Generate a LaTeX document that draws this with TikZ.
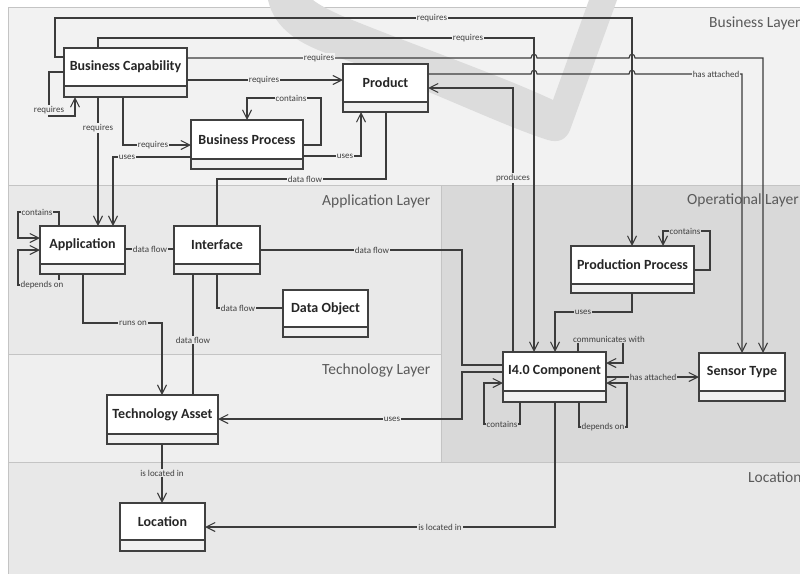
\documentclass[tikz,border=0pt]{standalone}
\usepackage{fontspec}
\setmainfont{Carlito}
\usetikzlibrary{arrows.meta,fit}
\definecolor{bgB}{HTML}{F2F2F2}
\definecolor{bgA}{HTML}{E9E9E9}
\definecolor{bgT}{HTML}{EFEFEF}
\definecolor{bgO}{HTML}{D9D9D9}
\definecolor{bgL}{HTML}{E8E8E8}
\definecolor{wmc}{HTML}{DCDCDC}
\definecolor{lnc}{HTML}{3C3C3C}
\definecolor{boxc}{HTML}{404040}
\definecolor{bordc}{HTML}{C4C4C4}
\definecolor{compc}{HTML}{F0F0F0}
\definecolor{laytxt}{HTML}{5A5A5A}
\definecolor{lbltxt}{HTML}{404040}
\definecolor{ttltxt}{HTML}{262626}
\newcommand\umlcls[7]{%
  \node[clsbox, fit={(#2,#3) (#4,#6)}] (#1) {};
  \filldraw[clsline, fill=compc] (#2,#5) rectangle (#4,#6);
  \node[clstext] (#1t) at ({(#2+#4)/2},{(#3+#5)/2}) {#7};
}
\begin{document}
\begin{tikzpicture}[x=1pt,y=-1pt,
  clsline/.style={draw=boxc, line width=1.3pt},
  clsbox/.style={clsline, fill=white, inner sep=0pt, outer sep=0pt},
  clstext/.style={font=\fontsize{14}{16}\selectfont\bfseries, text=ttltxt, inner sep=0pt},
  conn/.style={draw=lnc, line width=1.1pt},
  arr/.style={conn, -{Straight Barb[length=9pt,width=9pt]}},
  lbl/.style={font=\fontsize{9}{10}\selectfont, text=lbltxt, inner sep=1pt},
  lB/.style={lbl, fill=bgB}, lA/.style={lbl, fill=bgA}, lT/.style={lbl, fill=bgT},
  lO/.style={lbl, fill=bgO}, lL/.style={lbl, fill=bgL},
  layer/.style={draw=bordc, line width=0.8pt},
  laylbl/.style={font=\fontsize{15.5}{18}\selectfont, text=laytxt, anchor=west, inner sep=0pt}
]
\useasboundingbox (0,0) rectangle (800,573);
\clip (0,0) rectangle (800,573);
\fill[white] (0,0) rectangle (800,573);
% layers
\filldraw[layer, fill=bgB] (8,7) rectangle (812,185);
\filldraw[layer, fill=bgA] (8,185) rectangle (441,354);
\filldraw[layer, fill=bgT] (8,354) rectangle (441,462);
\filldraw[layer, fill=bgO] (441,185) rectangle (812,462);
\filldraw[layer, fill=bgL] (8,462) rectangle (812,580);
% watermark
\fill[wmc] (268,0) .. controls (275,30) and (300,45) .. (340,58)
  .. controls (420,85) and (500,125) .. (548,140)
  .. controls (558,143) and (566,140) .. (570,130) -- (617,0) -- (589,0) -- (553,100)
  .. controls (500,75) and (400,40) .. (340,15)
  .. controls (325,8) and (318,4) .. (313,0) -- cycle;
% layer labels
\node[laylbl] (LBus) at (709,23) {Business Layer};
\node[laylbl] (LApp) at (322,201) {Application Layer};
\node[laylbl] (LTec) at (322,370) {Technology Layer};
\node[laylbl] (LOpe) at (687,200) {Operational Layer};
\node[laylbl] (LLoc) at (748,477) {Location};
% class boxes
\umlcls{bc}{64}{48}{187}{86}{97}{Business Capability}
\umlcls{prod}{343}{64}{428}{102}{112}{Product}
\umlcls{bp}{191}{120}{303}{159}{169}{Business Process}
\umlcls{app}{40}{226}{125}{264}{274}{Application}
\umlcls{intf}{174}{226}{260}{264}{274}{Interface}
\umlcls{dobj}{283}{290}{368}{327}{337}{Data Object}
\umlcls{pp}{571}{246}{694}{284}{293}{Production Process}
\umlcls{i40}{503}{352}{606}{391}{402}{I4.0 Component}
\umlcls{sens}{699}{353}{785}{391}{401}{Sensor Type}
\umlcls{ta}{107}{395}{218}{434}{444}{Technology Asset}
\umlcls{loc}{120}{503}{205}{540}{551}{Location}
% connectors
\draw[arr] (bc.west |- 0,57) -- (55,57) -- (55,18) -- (632,18) -- (pp.north -| 632,0);
\draw[arr] (bc.north -| 98,0) -- (98,38) -- (534,38) -- (i40.north -| 534,0);
\draw[arr] (bc.east |- 0,58) -- (531,58) .. controls (531,53) and (537,53) .. (537,58)
  -- (629,58) .. controls (629,53) and (635,53) .. (635,58) -- (763,58) -- (sens.north -| 763,0);
\draw[arr] (prod.east |- 0,74) -- (531,74) .. controls (531,69) and (537,69) .. (537,74)
  -- (629,74) .. controls (629,69) and (635,69) .. (635,74) -- (742,74) -- (sens.north -| 742,0);
\draw[arr] (bc.east |- 0,80) -- (prod.west |- 0,80);
\draw[arr] (bc.west |- 0,72) -- (49,72) -- (49,116) -- (75,116) -- (bc.south -| 75,0);
\draw[arr] (bc.south -| 98,0) -- (app.north -| 98,0);
\draw[arr] (bc.south -| 123,0) -- (123,145) -- (bp.west |- 0,145);
\draw[arr] (bp.east |- 0,145) -- (321,145) -- (321,98) -- (247,98) -- (bp.north -| 247,0);
\draw[arr] (bp.west |- 0,157) -- (113,157) -- (app.north -| 113,0);
\draw[arr] (bp.east |- 0,156) -- (361,156) -- (prod.south -| 361,0);
\draw[conn] (prod.south -| 386,0) -- (386,179) -- (217,179) -- (intf.north -| 217,0);
\draw[arr] (i40.north -| 513,0) -- (513,88) -- (prod.east |- 0,88);
\draw[arr] (app.north -| 59,0) -- (59,212) -- (18,212) -- (18,238) -- (app.west |- 0,238);
\draw[arr] (app.south -| 59,0) -- (59,285) -- (18,285) -- (18,250) -- (app.west |- 0,250);
\draw[conn] (app.east |- 0,249) -- (intf.west |- 0,249);
\draw[conn] (intf.east |- 0,250) -- (462,250) -- (462,365) -- (i40.west |- 0,365);
\draw[conn] (intf.south -| 217,0) -- (217,308) -- (dobj.west |- 0,308);
\draw[arr] (app.south -| 83,0) -- (83,323) -- (162,323) -- (ta.north -| 162,0);
\draw[conn] (intf.south -| 193,0) -- (ta.north -| 193,0);
\draw[arr] (i40.west |- 0,372) -- (462,372) -- (462,419) -- (ta.east |- 0,419);
\draw[arr] (pp.south -| 632,0) -- (632,312) -- (555,312) -- (i40.north -| 555,0);
\draw[arr] (pp.east |- 0,270) -- (710,270) -- (710,231) -- (663,231) -- (pp.north -| 663,0);
\draw[arr] (i40.north -| 578,0) -- (578,339) -- (623,339) -- (623,363) -- (i40.east |- 0,363);
\draw[arr] (i40.east |- 0,377) -- (sens.west |- 0,377);
\draw[arr] (i40.south -| 520,0) -- (520,424) -- (484,424) -- (484,383) -- (i40.west |- 0,383);
\draw[arr] (i40.south -| 579,0) -- (579,427) -- (627,427) -- (627,383) -- (i40.east |- 0,383);
\draw[arr] (i40.south -| 555,0) -- (555,527) -- (loc.east |- 0,527);
\draw[arr] (ta.south -| 162,0) -- (loc.north -| 162,0);
% connector labels
\node[lB] (t1) at (432,18) {requires};
\node[lB] (t2) at (468,38) {requires};
\node[lB] (t3) at (319,58) {requires};
\node[lB] (t4) at (716,74) {has attached};
\node[lB] (t5) at (264,80) {requires};
\node[lB] (t6) at (49,110) {requires};
\node[lB] (t7) at (98,128) {requires};
\node[lB] (t8) at (153,145) {requires};
\node[lB] (t9) at (291,98) {contains};
\node[lB] (t10) at (127,157) {uses};
\node[lB] (t11) at (345,156) {uses};
\node[lB] (t12) at (305,179) {data flow};
\node[lB] (t13) at (513,178) {produces};
\node[lA] (t14) at (37,212) {contains};
\node[lA] (t15) at (42,285) {depends on};
\node[lA] (t16) at (150,249) {data flow};
\node[lA] (t17) at (372,250) {data flow};
\node[lA] (t18) at (238,308) {data flow};
\node[lA] (t19) at (133,323) {runs on};
\node[lA] (t20) at (193,340) {data flow};
\node[lT] (t21) at (392,419) {uses};
\node[lO] (t22) at (583,312) {uses};
\node[lO] (t23) at (685,231) {contains};
\node[lO] (t24) at (609,339) {communicates with};
\node[lO] (t25) at (653,377) {has attached};
\node[lO] (t26) at (502,424) {contains};
\node[lO] (t27) at (603,427) {depends on};
\node[lL] (t28) at (440,527) {is located in};
\node[lL] (t29) at (162,473) {is located in};
\end{tikzpicture}
\end{document}
